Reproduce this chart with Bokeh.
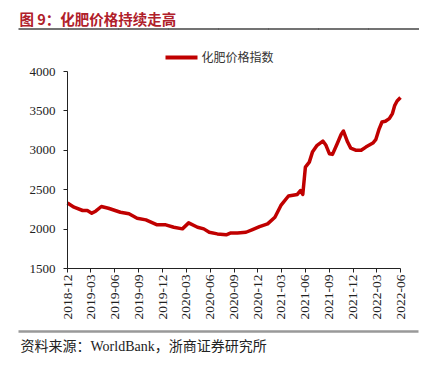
import datetime as dt
from math import pi
from bokeh.plotting import figure
from bokeh.models import (FixedTicker, DatetimeTickFormatter, Range1d, LinearAxis,
                          DatetimeAxis)
from bokeh.core.properties import value
from bokeh.embed import file_html
from bokeh.resources import INLINE

title_text = "图 9：化肥价格持续走高"
source_text = "资料来源：WorldBank，浙商证券研究所"
series_name = "化肥价格指数"

dates = ["2018-12-01", "2018-12-26", "2019-01-28", "2019-02-15", "2019-03-04", "2019-03-19",
         "2019-04-10", "2019-05-07", "2019-06-22", "2019-07-25", "2019-08-25", "2019-09-28",
         "2019-11-10", "2019-12-13", "2020-01-13", "2020-02-15", "2020-03-10", "2020-04-13",
         "2020-05-07", "2020-05-28", "2020-06-28", "2020-08-01", "2020-08-19", "2020-09-13",
         "2020-10-16", "2020-11-10", "2020-12-07", "2021-01-07", "2021-02-04", "2021-02-27",
         "2021-03-28", "2021-05-01", "2021-05-13", "2021-05-22", "2021-06-01", "2021-06-16",
         "2021-06-28", "2021-07-16", "2021-08-07", "2021-08-19", "2021-09-01", "2021-09-13",
         "2021-10-01", "2021-10-16", "2021-10-25", "2021-11-10", "2021-11-22", "2021-12-13",
         "2022-01-01", "2022-01-19", "2022-02-15", "2022-02-26", "2022-03-10", "2022-03-22",
         "2022-04-04", "2022-04-19", "2022-05-01", "2022-05-10", "2022-05-19", "2022-06-01"]
values = [2330, 2278, 2236, 2236, 2202, 2227,
          2287, 2265, 2214, 2194, 2138, 2117,
          2054, 2054, 2024, 2003, 2079, 2024,
          2003, 1960, 1939, 1927, 1952, 1952,
          1960, 1994, 2032, 2066, 2151, 2300,
          2420, 2440, 2490, 2440, 2787, 2850,
          2977, 3063, 3117, 3063, 2957, 2948,
          3084, 3200, 3244, 3105, 3028, 3000,
          3000, 3041, 3092, 3135, 3262, 3359,
          3368, 3402, 3466, 3571, 3626, 3670]

x_tick_labels = ["2018-12", "2019-03", "2019-06", "2019-09", "2019-12", "2020-03", "2020-06",
                 "2020-09", "2020-12", "2021-03", "2021-06", "2021-09", "2021-12", "2022-03",
                 "2022-06"]
y_ticks = [1500, 2000, 2500, 3000, 3500, 4000]

LINE_COLOR = "#C00000"
serif = "Liberation Serif, Noto Sans CJK SC"

# canvas and plot-box geometry (pixels)
W, H = 426, 360
BOX_L, BOX_R, BOX_T, BOX_B = 67, 400, 71, 268

EPOCH = dt.datetime(1970, 1, 1)
def to_ms(d):
    return (d - EPOCH).total_seconds() * 1000

x = [dt.datetime.strptime(d, "%Y-%m-%d") for d in dates]
tick_dates = [dt.datetime.strptime(t + "-01", "%Y-%m-%d") for t in x_tick_labels]
tick_ms = [to_ms(t) for t in tick_dates]
t0, t1 = tick_ms[0], tick_ms[-1]
y0, y1 = y_ticks[0], y_ticks[-1]

ms_per_px = (t1 - t0) / (BOX_R - BOX_L)
v_per_px = (y1 - y0) / (BOX_B - BOX_T)
x_range = Range1d(t0 - BOX_L * ms_per_px, t1 + (W - BOX_R) * ms_per_px)
y_range = Range1d(y0 - (H - BOX_B) * v_per_px, y1 + BOX_T * v_per_px)

p = figure(width=W, height=H, output_backend="svg", toolbar_location=None,
           x_axis_type="datetime", x_axis_location=None, y_axis_location=None,
           x_range=x_range, y_range=y_range,
           min_border=0, min_border_left=0, min_border_right=0,
           min_border_top=0, min_border_bottom=0)
p.outline_line_color = None
p.grid.visible = False
p.extra_x_ranges = {"px": Range1d(0, W)}
p.extra_y_ranges = {"px": Range1d(H, 0)}
px = dict(x_range_name="px", y_range_name="px")

# header rule: drawn in short pieces
RULE_L, RULE_R, PIECES = 18, 418, 8
step = (RULE_R - RULE_L) / PIECES
p.segment(x0=[RULE_L + i * step for i in range(PIECES)], y0=[28.5] * PIECES,
          x1=[RULE_L + (i + 1) * step + 0.5 for i in range(PIECES)], y1=[28.5] * PIECES,
          line_color="#444444", line_width=1.3, **px)
# footer rule: rect in main data coordinates
mid_x = x_range.start + (RULE_L + RULE_R) / 2 * ms_per_px
p.rect(x=[mid_x], y=[y_range.end - 331 * v_per_px], width=(RULE_R - RULE_L) * ms_per_px,
       height=2.5 * v_per_px, fill_color="#999999", line_color=None)

# data line
p.line(x, values, line_color=LINE_COLOR, line_width=3.5, line_join="round")

# axes
fmt = "%Y-%m"
xaxis = DatetimeAxis(fixed_location=y0, bounds=(t0, t1), ticker=FixedTicker(ticks=tick_ms),
                     formatter=DatetimeTickFormatter(milliseconds=fmt, seconds=fmt, minsec=fmt,
                                                     minutes=fmt, hourmin=fmt, hours=fmt,
                                                     days=fmt, months=fmt, years=fmt))
yaxis = LinearAxis(fixed_location=t0, bounds=(y0, y1), ticker=FixedTicker(ticks=y_ticks))
xaxis.major_label_orientation = pi / 2
for ax in (xaxis, yaxis):
    ax.axis_line_color = "#222222"
    ax.major_tick_line_color = "#222222"
    ax.major_tick_out = 4
    ax.major_tick_in = 0
    ax.minor_tick_out = 0
    ax.minor_tick_in = 0
    ax.major_label_text_font = "Liberation Serif"
    ax.major_label_text_color = "#222222"
yaxis.major_label_text_font_size = "13px"
xaxis.major_label_text_font_size = "13.5px"
yaxis.major_label_standoff = 8
xaxis.major_label_standoff = 2
p.add_layout(xaxis, "below")
p.add_layout(yaxis, "left")

# header: title, legend
p.text(x=[19], y=[17.5], text=[title_text], text_font=value("Noto Sans CJK SC"),
       text_font_style="bold", text_font_size="14.5px", text_color="#B0202A",
       text_baseline="middle", text_align="left", **px)
p.line(x=[165, 197], y=[57, 57], line_color=LINE_COLOR, line_width=4, **px)
p.text(x=[201], y=[57], text=[series_name], text_font=value(serif),
       text_font_size="12px", text_color="#333333",
       text_baseline="middle", text_align="left", **px)

# footer: source
p.text(x=[20], y=[345.5], text=[source_text], text_font=value(serif),
       text_font_size="14px", text_color="#222222",
       text_baseline="middle", text_align="left", **px)

open("out.html", "w").write(file_html(p, INLINE))
